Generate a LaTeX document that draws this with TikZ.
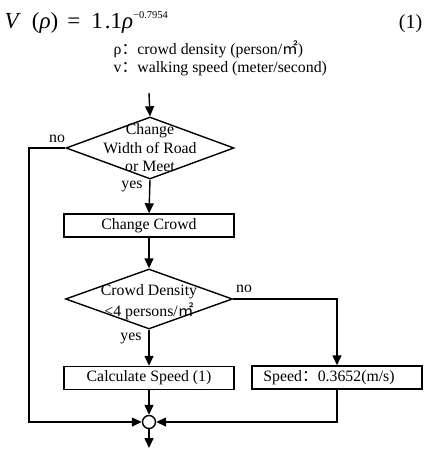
\documentclass[tikz,border=0pt]{standalone}
\usepackage{fontspec}
\setmainfont{Liberation Serif}
\newfontfamily\cjk{Noto Sans CJK SC}
\usetikzlibrary{shapes.geometric,arrows.meta}
\newcommand\sqm{{\cjk ㎡}}
\newcommand\fwc{{\cjk ：}}
\tikzset{
  every picture/.style={line width=1.4pt},
  txt/.style={font=\fontsize{15.8}{18.5}\selectfont, inner sep=0pt},
  eqf/.style={font=\fontsize{23}{24}\selectfont, inner sep=0pt},
  decide/.style={diamond, draw, inner sep=0pt},
  procbox/.style={rectangle, draw, minimum width=170pt, minimum height=23pt, inner sep=0pt, txt},
  merge/.style={circle, draw, minimum size=13pt, inner sep=0pt},
  arr/.style={-{Triangle[length=10pt,width=9pt]}},
  lbl/.style={txt}
}
\begin{document}
\begin{tikzpicture}[x=1pt,y=-1pt]
\useasboundingbox (0,0) rectangle (427,457);
% equation
\node[eqf, anchor=base west] (eq) at (4,29) {\textit{V}\hspace{11pt}(\textit{ρ})\hspace{9pt}=\hspace{11pt}1\hspace{2pt}.\hspace{0pt}1\textit{ρ}\raisebox{10pt}{\fontsize{10.5}{12}\selectfont −0.7954}};
\node[eqf, anchor=base east, font=\fontsize{20}{22}\selectfont] (eqn) at (423,29) {(1)};
\node[txt, anchor=base west] (rho) at (113,55) {ρ\fwc crowd density (person/\sqm)};
\node[txt, anchor=base west] (vel) at (113,73) {v\fwc walking speed (meter/second)};
% flowchart
\coordinate (start) at (149,93);
\node[decide, minimum width=168pt, minimum height=62pt] (d1) at (150,148) {};
\node[txt, align=center] (d1t) at (150,148) {Change\\Width of Road\\or Meet};
\node[procbox] (cc) at (149,225.5) {Change Crowd};
\node[decide, minimum width=167pt, minimum height=60pt] (d2) at (149,299) {};
\node[txt, align=center, font=\fontsize{15.8}{21}\selectfont] (d2t) at (149,302.5) {Crowd Density\\<4 persons/\sqm};
\node[procbox] (calc) at (149,378) {Calculate Speed (1)};
\node[procbox] (sp) at (337,377.5) {\hspace{-16pt}Speed\fwc 0.3652(m/s)};
\node[merge] (m) at (149,422) {};
\coordinate (end) at (149,448);
\coordinate (lft) at (29,148);
% labels
\node[lbl] (no1) at (57,139) {no};
\node[lbl] (yes1) at (132,186) {yes};
\node[lbl] (no2) at (244,289) {no};
\node[lbl] (yes2) at (131,338) {yes};
% connectors
\draw[arr] (start) -- (d1.north);
\draw[arr] (d1.south) -- (cc.north);
\draw[arr] (cc.south) -- (d2.north);
\draw[arr] (d2.south) -- (calc.north);
\draw[arr] (d2.east) -| (sp.north);
\draw[arr] (calc.south) -- (m.north);
\draw[arr] (sp.south) |- (m.east);
\draw[arr] (d1.west) -- (lft) |- (m.west);
\draw[arr] (m.south) -- (end);
\end{tikzpicture}
\end{document}
